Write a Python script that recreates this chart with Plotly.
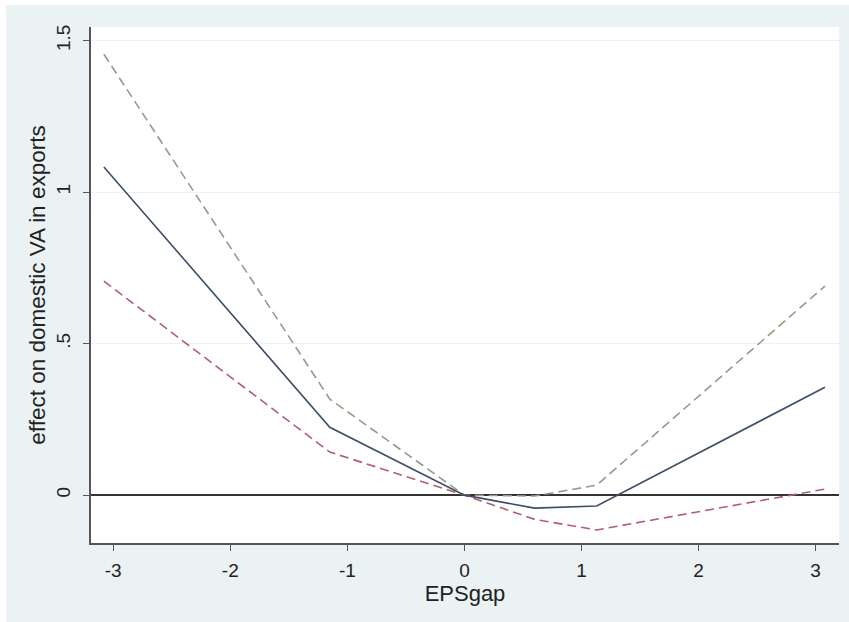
import plotly.graph_objects as go

eps_gap = [-3.08, -1.15, 0.0, 0.6, 1.13, 3.08]
effect = [1.083, 0.224, 0.0, -0.043, -0.036, 0.356]
upper_ci = [1.455, 0.317, 0.0, -0.003, 0.033, 0.690]
lower_ci = [0.706, 0.142, 0.0, -0.080, -0.115, 0.020]

x_ticks = [-3, -2, -1, 0, 1, 2, 3]
x_tick_labels = ["-3", "-2", "-1", "0", "1", "2", "3"]
y_ticks = [0, 0.5, 1, 1.5]
y_tick_labels = ["0", ".5", "1", "1.5"]

fig = go.Figure()
fig.add_trace(go.Scatter(x=eps_gap, y=upper_ci, mode="lines",
                         line=dict(color="#939c86", width=1.6, dash="9px,5px"),
                         showlegend=False))
fig.add_trace(go.Scatter(x=eps_gap, y=lower_ci, mode="lines",
                         line=dict(color="#b0606a", width=1.6, dash="9px,5px"),
                         showlegend=False))
fig.add_trace(go.Scatter(x=eps_gap, y=effect, mode="lines",
                         line=dict(color="#3d4f66", width=1.6),
                         showlegend=False))

fig.update_layout(
    width=849, height=622,
    margin=dict(l=91, r=10, t=27, b=79),
    paper_bgcolor="white",
    plot_bgcolor="white",
    font=dict(family="Liberation Sans, Arial, sans-serif", size=19, color="#222"),
    shapes=[
        dict(type="rect", xref="paper", yref="paper", x0=-0.1136, x1=1.0134,
             y0=-0.153, y1=1.0426, fillcolor="#eaf2f3", line=dict(width=0), layer="below"),
        dict(type="rect", xref="paper", yref="paper", x0=0, x1=1, y0=0, y1=1,
             fillcolor="white", line=dict(width=0), layer="below"),
    ],
    xaxis=dict(range=[-3.19, 3.2], tickvals=x_ticks, ticktext=x_tick_labels,
               showgrid=False, zeroline=False, showline=True, linecolor="#555",
               linewidth=1.5, ticks="outside", ticklen=6, tickcolor="#555",
               ticklabelstandoff=3,
               tickfont=dict(size=19),
               title=dict(text="EPSgap", standoff=0, font=dict(size=22))),
    yaxis=dict(range=[-0.158, 1.545], tickvals=y_ticks, ticktext=y_tick_labels,
               tickangle=-90, showgrid=True, gridcolor="#eaf2f3", gridwidth=1,
               zeroline=True, zerolinecolor="#333", zerolinewidth=1.5,
               showline=True, linecolor="#555", linewidth=1.5, ticks="outside",
               ticklen=6, tickcolor="#555", ticklabelstandoff=6,
               tickfont=dict(size=19),
               title=dict(text="effect on domestic VA in exports", standoff=1,
                          font=dict(size=22.5))),
)

fig.write_html("out.html")
